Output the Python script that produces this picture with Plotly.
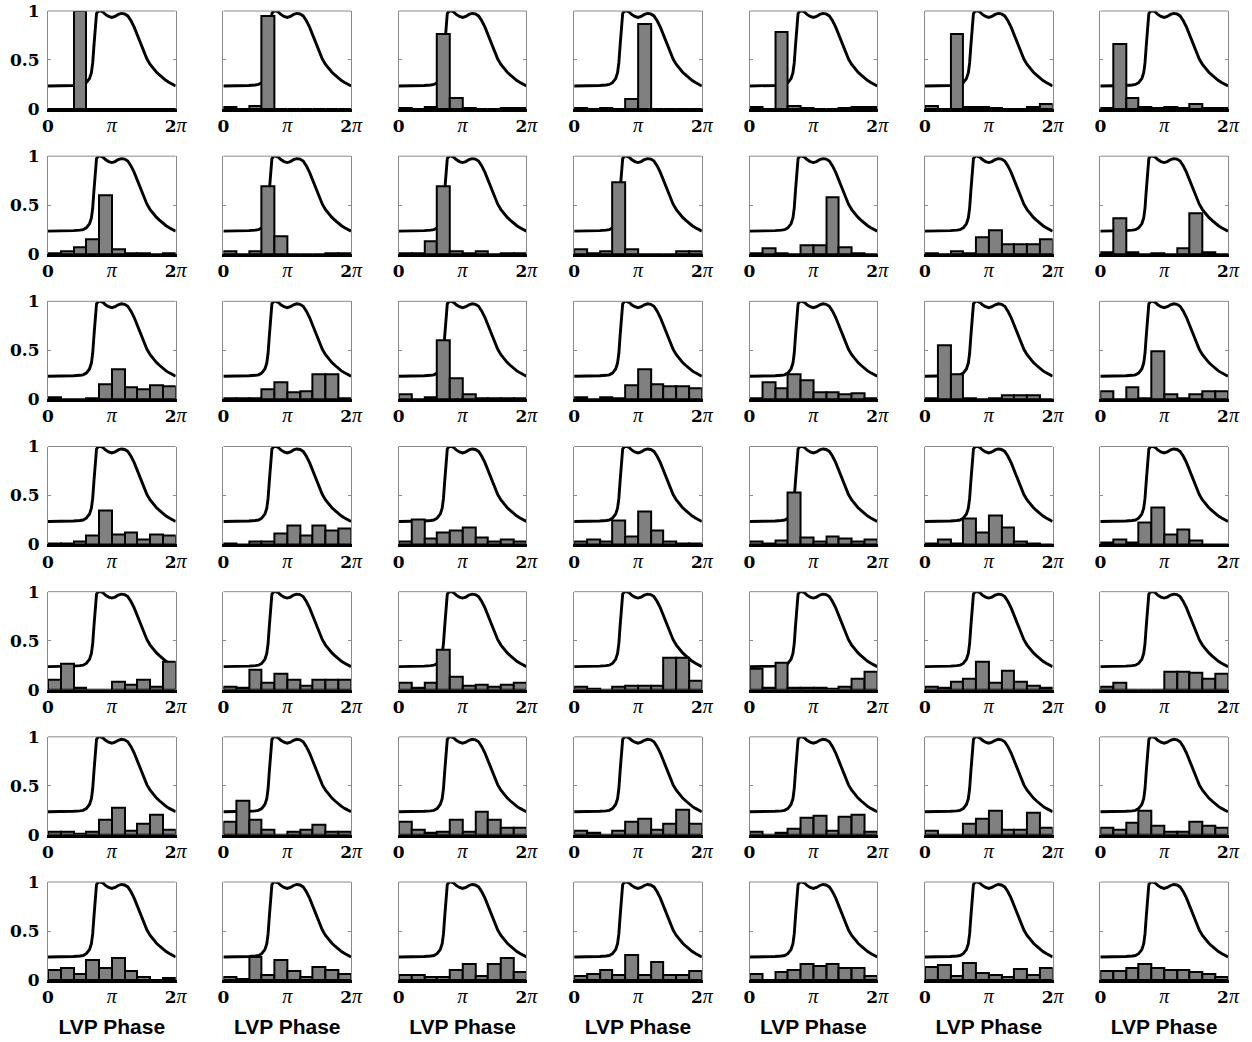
import numpy as np
import plotly.graph_objects as go
from plotly.subplots import make_subplots

N_ROWS, N_COLS, N_BINS = 7, 7, 10

# LVP waveform (same in every panel): phase in units of pi, normalised value
lvp_phase_pi = [0.00, 0.10, 0.20, 0.30, 0.40, 0.50, 0.55, 0.60, 0.65, 0.68, 0.70,
                0.72, 0.74, 0.76, 0.79, 0.82, 0.86, 0.90, 0.95, 1.00, 1.05, 1.10,
                1.15, 1.20, 1.25, 1.30, 1.35, 1.40, 1.45, 1.50, 1.55, 1.60, 1.65,
                1.70, 1.75, 1.80, 1.85, 1.90, 1.95, 2.00]
lvp_value = [0.235, 0.235, 0.236, 0.237, 0.240, 0.245, 0.250, 0.268, 0.310, 0.370, 0.470,
             0.650, 0.870, 0.975, 1.000, 1.000, 0.990, 0.965, 0.945, 0.935, 0.945, 0.965,
             0.975, 0.970, 0.950, 0.900, 0.835, 0.750, 0.660, 0.575, 0.510, 0.455, 0.410,
             0.375, 0.345, 0.315, 0.290, 0.270, 0.250, 0.235]

# Histogram values (10 phase bins per panel), one list per grid row, 7 panels each
hist_row1 = [
    [0, 0, 1.00, 0, 0, 0, 0, 0, 0, 0],
    [0.02, 0, 0.03, 0.95, 0, 0, 0, 0, 0, 0],
    [0.01, 0, 0.02, 0.77, 0.11, 0.01, 0, 0, 0.01, 0.01],
    [0.01, 0, 0.01, 0, 0.10, 0.87, 0, 0, 0, 0],
    [0.02, 0, 0.79, 0.03, 0.01, 0, 0, 0.01, 0.02, 0.02],
    [0.03, 0, 0.77, 0.02, 0.02, 0.01, 0, 0, 0.02, 0.05],
    [0.01, 0.66, 0.11, 0.02, 0.01, 0.02, 0.01, 0.05, 0.01, 0.01],
]
hist_row2 = [
    [0.01, 0.03, 0.07, 0.15, 0.60, 0.05, 0.01, 0.01, 0, 0.01],
    [0.03, 0, 0.03, 0.69, 0.18, 0, 0, 0, 0.01, 0.01],
    [0.01, 0.01, 0.13, 0.69, 0.03, 0.01, 0.03, 0, 0.01, 0.01],
    [0.05, 0.01, 0.03, 0.73, 0.05, 0, 0, 0, 0.03, 0.03],
    [0.01, 0.06, 0.01, 0, 0.09, 0.09, 0.58, 0.07, 0.01, 0],
    [0.01, 0, 0.03, 0.01, 0.17, 0.24, 0.10, 0.10, 0.10, 0.15],
    [0.02, 0.37, 0.02, 0, 0.01, 0, 0.06, 0.42, 0.02, 0],
]
hist_row3 = [
    [0.02, 0, 0, 0.01, 0.15, 0.31, 0.12, 0.10, 0.14, 0.13],
    [0.01, 0.01, 0.01, 0.10, 0.17, 0.07, 0.08, 0.26, 0.25, 0.01],
    [0.05, 0, 0.02, 0.60, 0.21, 0.05, 0.01, 0.01, 0.01, 0.01],
    [0.02, 0, 0.02, 0.01, 0.14, 0.31, 0.15, 0.13, 0.13, 0.11],
    [0.01, 0.17, 0.11, 0.26, 0.19, 0.07, 0.07, 0.05, 0.06, 0.01],
    [0.01, 0.55, 0.26, 0.01, 0, 0.01, 0.04, 0.04, 0.04, 0],
    [0.08, 0, 0.12, 0.01, 0.49, 0.05, 0.01, 0.05, 0.08, 0.08],
]
hist_row4 = [
    [0.01, 0.01, 0.03, 0.09, 0.35, 0.10, 0.12, 0.05, 0.10, 0.09],
    [0.01, 0, 0.03, 0.03, 0.11, 0.19, 0.09, 0.19, 0.14, 0.16],
    [0.03, 0.26, 0.06, 0.12, 0.14, 0.17, 0.07, 0.03, 0.05, 0.03],
    [0.03, 0.05, 0.03, 0.24, 0.08, 0.34, 0.14, 0.03, 0.01, 0.01],
    [0.03, 0.01, 0.04, 0.53, 0.07, 0.03, 0.08, 0.06, 0.03, 0.05],
    [0.01, 0.05, 0.01, 0.27, 0.12, 0.30, 0.17, 0.03, 0.01, 0],
    [0.02, 0.05, 0.02, 0.22, 0.38, 0.10, 0.15, 0.04, 0, 0],
]
hist_row5 = [
    [0.10, 0.27, 0.02, 0, 0, 0.08, 0.05, 0.10, 0.03, 0.29],
    [0.03, 0.02, 0.20, 0.07, 0.16, 0.10, 0.04, 0.10, 0.10, 0.10],
    [0.07, 0.02, 0.07, 0.41, 0.13, 0.04, 0.05, 0.03, 0.05, 0.07],
    [0.03, 0.01, 0, 0.03, 0.04, 0.04, 0.04, 0.33, 0.33, 0.09],
    [0.21, 0.02, 0.28, 0.02, 0.02, 0.02, 0.01, 0.03, 0.11, 0.18],
    [0.03, 0.02, 0.08, 0.11, 0.29, 0.07, 0.19, 0.08, 0.04, 0.02],
    [0.03, 0.07, 0, 0, 0, 0.18, 0.18, 0.17, 0.11, 0.16],
]
hist_row6 = [
    [0.03, 0.03, 0.01, 0.03, 0.15, 0.28, 0.04, 0.11, 0.20, 0.05],
    [0.13, 0.35, 0.15, 0.05, 0, 0.03, 0.05, 0.10, 0.03, 0.03],
    [0.13, 0.05, 0.02, 0.03, 0.15, 0.03, 0.23, 0.15, 0.07, 0.07],
    [0.04, 0.02, 0, 0.04, 0.13, 0.16, 0.05, 0.11, 0.26, 0.11],
    [0.03, 0, 0.02, 0.06, 0.17, 0.19, 0.04, 0.18, 0.20, 0.03],
    [0.04, 0, 0, 0.11, 0.16, 0.24, 0.05, 0.05, 0.22, 0.07],
    [0.07, 0.05, 0.12, 0.24, 0.09, 0.03, 0.03, 0.13, 0.09, 0.07],
]
hist_row7 = [
    [0.10, 0.12, 0.06, 0.20, 0.12, 0.22, 0.09, 0.03, 0, 0.02],
    [0.03, 0.01, 0.23, 0.05, 0.20, 0.09, 0.03, 0.13, 0.10, 0.06],
    [0.05, 0.05, 0.03, 0.03, 0.10, 0.16, 0.04, 0.16, 0.22, 0.08],
    [0.04, 0.06, 0.10, 0.05, 0.25, 0.05, 0.18, 0.05, 0.05, 0.09],
    [0.06, 0, 0.08, 0.10, 0.16, 0.14, 0.16, 0.12, 0.12, 0.04],
    [0.13, 0.15, 0.04, 0.17, 0.07, 0.05, 0.03, 0.11, 0.05, 0.12],
    [0.09, 0.09, 0.12, 0.16, 0.12, 0.10, 0.10, 0.08, 0.06, 0.03],
]
hist_rows = [hist_row1, hist_row2, hist_row3, hist_row4, hist_row5, hist_row6, hist_row7]

PI_SPAN = "<span style=\"font-family:'Liberation Serif';font-style:italic;font-weight:normal;font-size:20px\">π</span>"
x_tick_vals_pi = [0, 1, 2]
x_tick_labels = ["0", PI_SPAN, "2" + PI_SPAN]
y_tick_vals = [0, 0.5, 1]
y_tick_labels = ["0", "0.5", "1"]
x_title = "LVP Phase"

# ---------------------------------------------------------------------------
bin_edges = np.linspace(0, 2 * np.pi, N_BINS + 1)
bin_centers = 0.5 * (bin_edges[:-1] + bin_edges[1:])
bin_width = bin_edges[1] - bin_edges[0]
phase = np.array(lvp_phase_pi) * np.pi

W, H = 1252, 1042
ml, mr, mt, mb = 48, 24, 11, 62
pw, ph = W - ml - mr, H - mt - mb
gx, gy = 47.7, 47.2
fig = make_subplots(rows=N_ROWS, cols=N_COLS,
                    horizontal_spacing=gx / pw, vertical_spacing=gy / ph,
                    specs=[[{"secondary_y": True}] * N_COLS for _ in range(N_ROWS)])

cw = (pw - (N_COLS - 1) * gx) / N_COLS
col_domains = [[c * (cw + gx) / pw, (c * (cw + gx) + cw) / pw] for c in range(N_COLS)]

tick_font = dict(family="DejaVu Serif", size=17, color="black", weight="bold")

for r in range(N_ROWS):
    for c in range(N_COLS):
        fig.add_trace(go.Scatter(x=phase, y=lvp_value, mode="lines",
                                 line=dict(color="black", width=2.9),
                                 showlegend=False, hoverinfo="skip"),
                      row=r + 1, col=c + 1, secondary_y=False)
        fig.add_trace(go.Bar(x=bin_centers, y=hist_rows[r][c], width=bin_width,
                             marker=dict(color="#808080",
                                         line=dict(color="black", width=2)),
                             showlegend=False, hoverinfo="skip"),
                      row=r + 1, col=c + 1, secondary_y=True)
        fig.update_xaxes(domain=col_domains[c], range=[0, 2 * np.pi],
                         tickvals=[v * np.pi for v in x_tick_vals_pi],
                         ticktext=x_tick_labels, tickfont=tick_font,
                         showline=True, linecolor="black", linewidth=2.5,
                         ticks="", showgrid=False, zeroline=False,
                         ticklabelstandoff=0, automargin=False,
                         row=r + 1, col=c + 1)
        fig.update_yaxes(range=[0, 1], tickvals=y_tick_vals, ticktext=y_tick_labels,
                         tickfont=tick_font, showticklabels=(c == 0),
                         showline=True, linecolor="#8a8a8a", linewidth=1,
                         mirror="ticks", ticks="inside", ticklen=3, tickcolor="#8a8a8a",
                         showgrid=False, zeroline=False, ticklabelstandoff=4,
                         automargin=False,
                         row=r + 1, col=c + 1, secondary_y=False)
        fig.update_yaxes(range=[0, 1], visible=False, showgrid=False, zeroline=False,
                         automargin=False,
                         row=r + 1, col=c + 1, secondary_y=True)
        fig.add_shape(type="line", xref="x domain", yref="y domain",
                      x0=0, x1=1, y0=1, y1=1,
                      line=dict(color="#8a8a8a", width=1),
                      row=r + 1, col=c + 1, secondary_y=False)

for c in range(N_COLS):
    fig.update_xaxes(title=dict(text=x_title, standoff=14,
                                font=dict(family="Liberation Sans", size=21,
                                          color="black", weight="bold")),
                     row=N_ROWS, col=c + 1)

fig.update_layout(width=W, height=H, margin=dict(l=ml, r=mr, t=mt, b=mb),
                  plot_bgcolor="white", paper_bgcolor="white",
                  bargap=0, barmode="overlay", showlegend=False)

fig.write_html("out.html")
